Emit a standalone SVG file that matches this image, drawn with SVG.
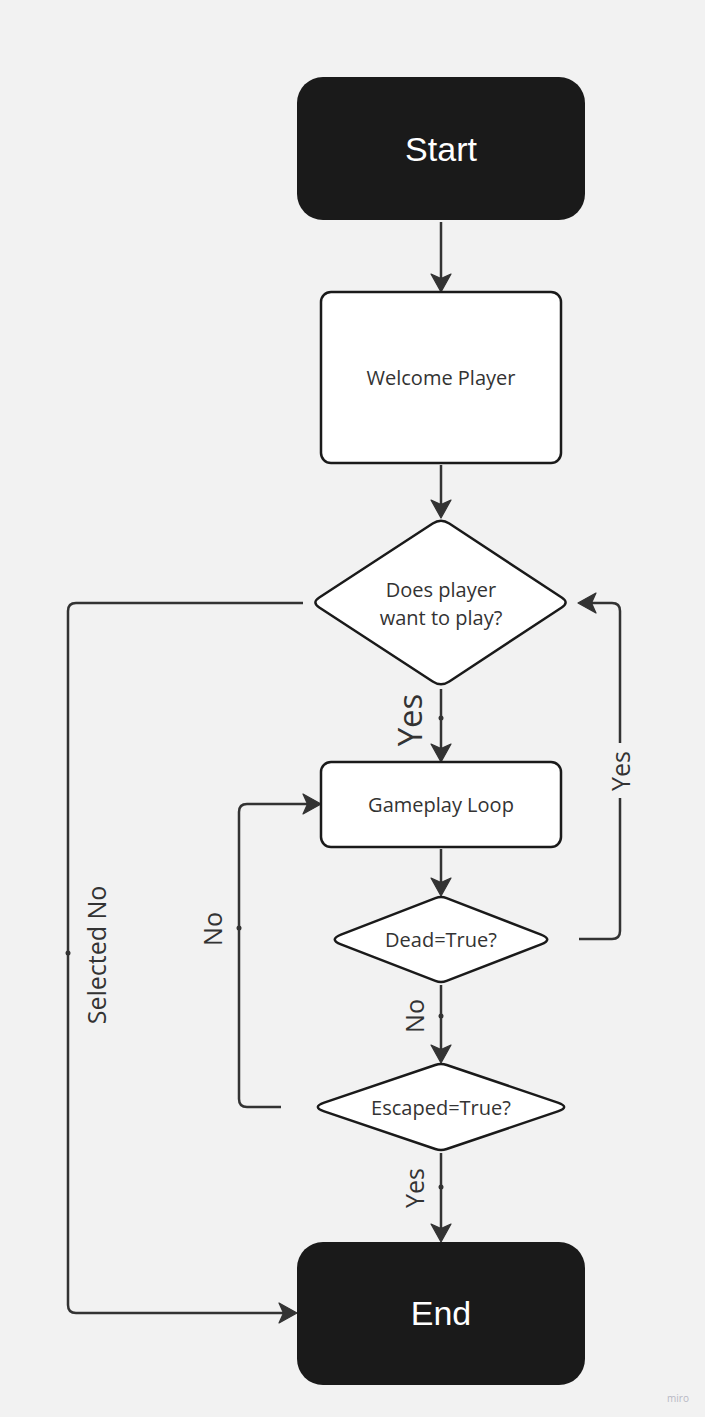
<svg xmlns="http://www.w3.org/2000/svg" width="705" height="1417" viewBox="0 0 705 1417">
<style>
.term{fill:#1a1a1a;}
.box{fill:#ffffff;stroke:#1a1a1a;stroke-width:2.5;}
.tt{font-family:"Liberation Sans",Arial,sans-serif;font-size:34px;fill:#ffffff;text-anchor:middle;}
.nt{font-family:"Open Sans","Noto Sans",sans-serif;font-size:20px;fill:#333333;text-anchor:middle;}
.lbl{font-family:"Open Sans","Noto Sans",sans-serif;font-size:25px;fill:#333333;text-anchor:middle;}
.big{font-size:33px;}
.conn{fill:none;stroke:#333333;stroke-width:2.5;marker-end:url(#ah);}
.dot{fill:#333333;}
</style>
<defs>
<marker id="ah" markerUnits="userSpaceOnUse" viewBox="-20 -12 21 24" markerWidth="21" markerHeight="24" refX="-8" refY="0" orient="auto">
<path d="M0,0 L-18,-10 L-13.5,0 L-18,10 Z" fill="#333333" stroke="#333333" stroke-width="1.2" stroke-linejoin="round"/>
</marker>
</defs>
<rect width="705" height="1417" fill="#f2f2f2"/>

<g id="connectors">
<path class="conn" d="M441,222 L441,284"/>
<path class="conn" d="M441,465 L441,510"/>
<path class="conn" d="M441,689 L441,754"/>
<path class="conn" d="M441,849 L441,888"/>
<path class="conn" d="M441,985 L441,1055"/>
<path class="conn" d="M441,1153 L441,1234"/>
<path class="conn" d="M303,603 L76,603 Q68,603 68,611 L68,1305 Q68,1313 76,1313 L289,1313"/>
<path class="conn" d="M281,1107 L247,1107 Q239,1107 239,1099 L239,812 Q239,804 247,804 L313,804"/>
<path class="conn" d="M579,939 L612,939 Q620,939 620,931 L620,798 M620,743 L620,611 Q620,603 612,603 L586,603"/>
<circle class="dot" cx="441" cy="718" r="2.5"/>
<circle class="dot" cx="441" cy="1016" r="2.5"/>
<circle class="dot" cx="441" cy="1187" r="2.5"/>
<circle class="dot" cx="68" cy="953" r="2.5"/>
<circle class="dot" cx="239" cy="928" r="2.5"/>
<text class="lbl big" transform="translate(422,720) rotate(-90)">Yes</text>
<text class="lbl" transform="translate(424,1016) rotate(-90)">No</text>
<text class="lbl" transform="translate(424,1188) rotate(-90)">Yes</text>
<text class="lbl" transform="translate(106,955) rotate(-90)">Selected No</text>
<text class="lbl" transform="translate(222,929) rotate(-90)">No</text>
<text class="lbl" transform="translate(630,771) rotate(-90)">Yes</text>
</g>

<g id="start">
<rect class="term" x="297" y="77" width="288" height="143" rx="26"/>
<text class="tt" x="441" y="161">Start</text>
</g>

<g id="welcome">
<rect class="box" x="321" y="292" width="240" height="171" rx="10"/>
<text class="nt" x="441" y="385">Welcome Player</text>
</g>

<g id="decision-play">
<path class="box" d="M432.7,523.5 Q441,518 449.3,523.5 L561.7,597.5 Q569.5,602.5 561.7,607.5 L449.3,681.5 Q441,687 432.7,681.5 L319.3,607.5 Q311.5,602.5 319.3,597.5 Z"/>
<text class="nt" x="441" y="597">Does player</text>
<text class="nt" x="441" y="625">want to play?</text>
</g>

<g id="gameplay">
<rect class="box" x="321" y="762" width="240" height="85" rx="10"/>
<text class="nt" x="441" y="812">Gameplay Loop</text>
</g>

<g id="decision-dead">
<path class="box" d="M435.4,898.2 Q441,896 446.6,898.2 L541,934.6 Q553.5,939.5 541,944.4 L446.6,980.8 Q441,983 435.4,980.8 L341,944.4 Q328.5,939.5 341,934.6 Z"/>
<text class="nt" x="441" y="947">Dead=True?</text>
</g>

<g id="decision-escaped">
<path class="box" d="M435.3,1065 Q441,1063 446.7,1065 L557.8,1102.6 Q570.5,1107 557.8,1111.4 L446.7,1149.05 Q441,1151 435.3,1149.05 L324.2,1111.4 Q311.5,1107 324.2,1102.6 Z"/>
<text class="nt" x="441" y="1115">Escaped=True?</text>
</g>

<g id="end">
<rect class="term" x="297" y="1242" width="288" height="143" rx="26"/>
<text class="tt" x="441" y="1325">End</text>
</g>

<text x="678" y="1402" font-family="'Open Sans','Noto Sans',sans-serif" font-size="10" fill="#b8b8c4" text-anchor="middle">miro</text>
</svg>
